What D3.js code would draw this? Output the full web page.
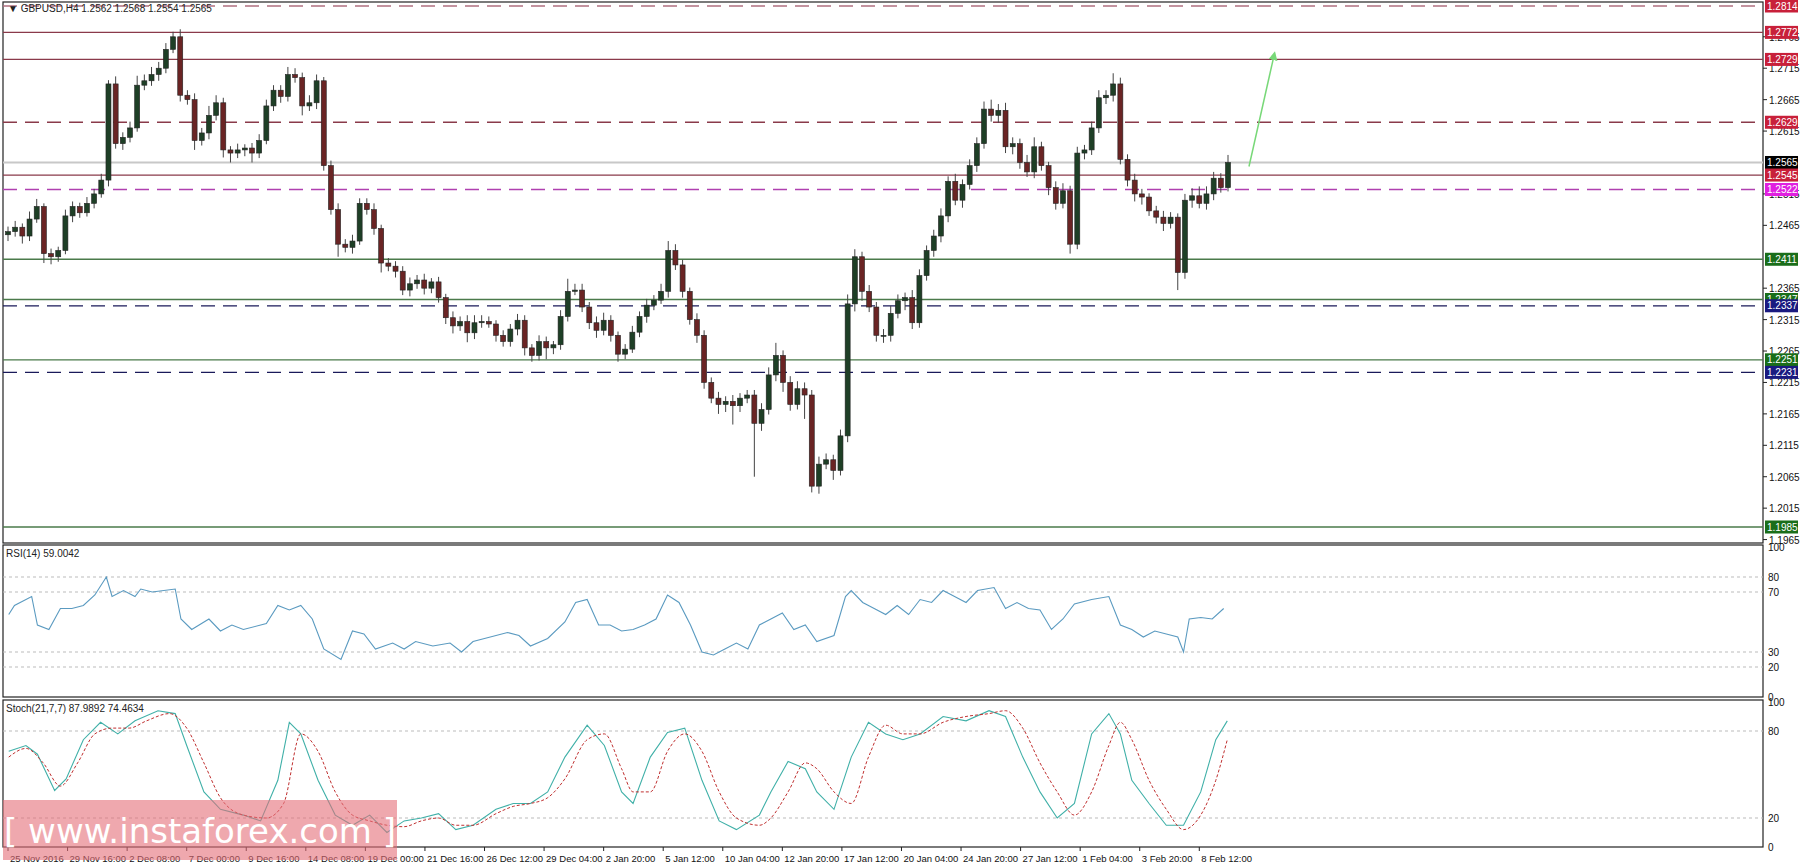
<!DOCTYPE html>
<html><head><meta charset="utf-8">
<script src="https://cdn.jsdelivr.net/npm/d3@7"></script>
<style>body{margin:0;background:#fff}svg{display:block}</style>
</head><body>
<svg id="c" width="1800" height="868"></svg>
<script>
const title = "GBPUSD,H4  1.2562 1.2568 1.2554 1.2565";
const closes = [1.2455,1.2462,1.2448,1.2475,1.2495,1.2420,1.2415,1.2425,1.2480,1.2495,
1.2485,1.2500,1.2515,1.2537,1.2690,1.2595,1.2605,1.2620,1.2688,1.2695,
1.2705,1.2715,1.2745,1.2765,1.2672,1.2665,1.2600,1.2612,1.2640,1.2660,
1.2585,1.2580,1.2585,1.2588,1.2580,1.2600,1.2655,1.2680,1.2670,1.2705,
1.2700,1.2655,1.2660,1.2695,1.2560,1.2490,1.2435,1.2430,1.2440,1.2500,
1.2490,1.2460,1.2405,1.2400,1.2392,1.2362,1.2372,1.2378,1.2365,1.2375,
1.2350,1.2318,1.2305,1.2312,1.2294,1.2310,1.2312,1.2308,1.2290,1.2280,
1.2300,1.2314,1.2270,1.2258,1.2280,1.2270,1.2275,1.2320,1.2360,1.2362,
1.2335,1.2310,1.2298,1.2314,1.2290,1.2260,1.2268,1.2295,1.2320,1.2338,
1.2346,1.2360,1.2425,1.2402,1.2360,1.2315,1.2290,1.2215,1.2190,1.2180,
1.2185,1.2178,1.2190,1.2195,1.2150,1.2172,1.2227,1.2258,1.2215,1.2180,
1.2205,1.2195,1.2050,1.2085,1.2092,1.2075,1.2130,1.2340,1.2415,1.2360,
1.2335,1.2290,1.2290,1.2325,1.2345,1.2350,1.2310,1.2385,1.2425,1.2448,
1.2480,1.2535,1.2505,1.2530,1.2560,1.2595,1.2650,1.2640,1.2648,1.2590,
1.2595,1.2565,1.2550,1.2590,1.2560,1.2525,1.2500,1.2520,1.2435,1.2580,
1.2585,1.2620,1.2668,1.2672,1.2690,1.2570,1.2537,1.2515,1.2510,1.2488,
1.2478,1.2468,1.2478,1.2390,1.2505,1.2512,1.2500,1.2515,1.2540,1.2525,1.2565];
const firstOpen = 1.2450;
// wick lengths in pips
const wickUp = [8,10,6,12,12,5,8,6,10,8, 6,10,8,10,6,12,8,10,15,10, 12,10,10,8,12,8,10,8,15,12,
8,6,10,6,8,10,10,8,8,12, 10,8,12,10,6,8,10,8,10,8, 8,10,6,8,8,8,10,8,10,6,
8,6,10,8,10,12,10,8,6,8, 8,10,8,6,10,8,6,10,20,10, 10,8,10,12,8,6,8,10,8,10,
8,12,15,10,8,6,10,8,8,10, 8,10,8,8,8,10,12,20,8,10, 12,10,8,12,10,8,10,15,12,8,
10,8,10,12,10,8,12,10,8,10, 12,8,12,8,10,10,12,15,10,12, 10,8,12,15,8,6,10,12,8,10,
8,10,12,8,17,10,8,10,8,6, 8,10,8,6,10,12,15,12,10,8, 12];
const wickDn = [10,8,12,8,6,15,12,8,6,10, 8,6,8,6,10,8,10,8,6,8, 8,10,8,6,10,8,15,8,10,8,
12,15,8,10,15,8,6,8,10,8, 8,15,8,10,8,8,20,8,10,6, 8,10,15,8,10,8,10,8,10,8,
8,10,12,8,15,10,8,6,10,8, 8,10,12,10,8,18,10,8,8,6, 8,10,12,8,10,12,8,6,8,10,
8,6,10,8,10,8,12,10,8,15, 12,30,10,8,85,12,8,10,15,10, 8,38,10,12,8,15,8,10,12,15,
8,10,12,10,8,15,10,8,8,10, 10,10,8,12,8,10,8,10,12,10, 12,10,8,10,8,12,10,8,15,8,
10,8,8,10,10,8,10,12,12,8, 10,12,8,28,10,12,8,10,10,8, 6];
const levels = [
 {v:1.2814, c:"#b07080", dash:true,  lab:"#c8203a"},
 {v:1.2772, c:"#8a3a4a", dash:false, lab:"#c8203a"},
 {v:1.2729, c:"#8a3a4a", dash:false, lab:"#c8203a"},
 {v:1.2629, c:"#8a3a4a", dash:true,  lab:"#c8203a"},
 {v:1.2565, c:"#c8c8c8", dash:false, lab:"#000000"},
 {v:1.2545, c:"#8a3a4a", dash:false, lab:"#c8203a"},
 {v:1.2522, c:"#b040b0", dash:true,  lab:"#e020e0"},
 {v:1.2411, c:"#4a7a4a", dash:false, lab:"#1a6e1a"},
 {v:1.2347, c:"#4a7a4a", dash:false, lab:"#1a6e1a"},
 {v:1.2337, c:"#1a1a5a", dash:true,  lab:"#1a1a80"},
 {v:1.2251, c:"#4a7a4a", dash:false, lab:"#1a6e1a"},
 {v:1.2231, c:"#1a1a5a", dash:true,  lab:"#1a1a80"},
 {v:1.1985, c:"#4a7a4a", dash:false, lab:"#1a6e1a"}];
const priceTicks = [1.2765,1.2715,1.2665,1.2615,1.2515,1.2465,1.2365,1.2315,1.2265,1.2215,1.2165,1.2115,1.2065,1.2015,1.1965];
const rsiPos = [0.1,0.9,3.3,4.1,5.7,7.3,8.9,10.5,12.1,13.7,14.5,16.1,17.7,18.5,20.1,23.3,24.1,25.6,28,29.6,
31.2,32.8,36,37.6,39.2,40.8,42.4,44,46.4,48,49.6,51.2,53.6,55.2,56.8,59.2,61.6,63.2,64.8,66.4,
69.6,71.2,72.8,75.2,77.6,79.1,80.7,82.3,83.9,85.5,87.1,88.7,90.3,91.9,93.5,95.1,96.7,98.3,99.9,101.5,
103.1,104.7,106.3,107.9,109.5,111.1,112.7,115.1,116.7,117.5,119.1,120.7,122.3,123.9,125.5,127.1,128.7,130.3,131.9,133.5,
135.1,137.4,139,140.6,142.2,143.8,145.4,147,148.6,151,153.4,155,156.6,158.2,159.8,161.4,163,163.8,164.6,166.2,167.8,169.4];
const rsiVal = [55,61,67,48,45,59,59,61,68,80, 67,71,67,72,70,72,52,45,52,44, 48,45,49,61,58,61,52,32,25,44,
42,32,36,32,37,34,36,30,37,39, 43,41,34,39,50,63,65,48,48,44, 45,48,52,68,63,48,30,28,32,36,
32,48,52,56,45,48,37,41,67,71, 63,59,55,61,55,65,63,71,67,63, 71,73,59,63,59,58,45,52,62,65,
67,48,45,40,44,42,40,30,52,53, 52,59];
const stPos = [0.1,2.5,4.1,6.5,8.1,10.5,12.9,15.3,17.7,20.9,23.3,24.9,27.3,29.6,32.8,35.2,37.6,39.2,40.8,43.2,
45.6,48,50.4,52.8,55.2,57.6,60,62.4,64.8,68,70.4,72.8,75.2,77.6,80.7,83.1,85.5,87.1,89.5,91.9,
94.3,96.7,99.1,101.5,104.7,106.3,108.7,111.1,112.7,115.1,117.5,119.9,122.3,124.7,127.1,130.3,133.5,136.7,139,141.4,
143.8,146.2,148.6,151,153.4,155,156.6,159,161.4,163.8,166.2,168.3,169.9];
const stMain = [66,70,64,39,47,74,86,78,87,94, 92,70,38,26,22,18,46,86,78,46, 22,15,22,10,18,20,23,12,15,26,
30,30,38,62,84,70,38,30,62,79, 82,46,18,12,22,38,59,54,38,26, 62,86,78,74,78,90,87,94,90,62,
38,20,30,78,92,78,46,30,15,15, 38,74,87];
const sgPos = [0.1,2.5,4.9,7.3,9.7,12.1,14.5,16.9,19.3,22.5,24.9,27.3,29.6,32.8,36,38.4,40.8,43.2,45.6,48,
50.4,52.8,55.2,57.6,60,62.4,64.8,68,70.4,72.8,75.2,77.6,80.7,83.1,85.5,87.1,89.5,91.9,94.3,96.7,
99.1,101.5,104.7,106.3,108.7,111.1,112.7,115.1,117.5,119.9,122.3,124.7,127.1,130.3,133.5,136.7,139,141.4,143.8,146.2,
148.6,151,153.4,155,156.6,159,161.4,163.8,166.2,168.3,169.9];
const stSignal = [62,68,58,42,58,78,82,82,87,92, 82,58,34,22,20,30,78,66,38,22, 18,15,14,18,20,15,15,23,28,30,
34,47,74,78,54,38,38,66,78,66, 38,20,15,20,38,58,54,38,30,62, 84,78,78,86,90,92,94,82,58,38,
22,38,70,86,74,46,26,12,22,46, 74];
const timeLabels = ["25 Nov 2016","29 Nov 16:00","2 Dec 08:00","7 Dec 00:00","9 Dec 16:00","14 Dec 08:00","19 Dec 00:00","21 Dec 16:00","26 Dec 12:00","29 Dec 04:00","2 Jan 20:00","5 Jan 12:00","10 Jan 04:00","12 Jan 20:00","17 Jan 12:00","20 Jan 04:00","24 Jan 20:00","27 Jan 12:00","1 Feb 04:00","3 Feb 20:00","8 Feb 12:00"];
const timePos = [0,8.3,16.6,24.9,33.2,41.5,49.8,58.1,66.4,74.7,83,91.3,99.6,107.9,116.2,124.5,132.8,141.1,149.4,157.7,166];

const svg = d3.select("#c");
const F = "'Liberation Sans', Arial, sans-serif";
const L = 3, R = 1763;
const x = d3.scaleLinear().domain([0, closes.length-1]).range([8, 1228]);
const y = d3.scaleLinear().domain([1.1985, 1.2814]).range([527, 6]);
const yr = d3.scaleLinear().domain([0,100]).range([697, 547]);
const ys = d3.scaleLinear().domain([0,100]).range([847, 702]);

[[2,543],[545,697],[700,847]].forEach(([t,b])=>{
  svg.append("rect").attr("x",L).attr("y",t).attr("width",R-L).attr("height",b-t)
    .attr("fill","none").attr("stroke","#222").attr("stroke-width",1.2);
});

levels.forEach(l=>{
  svg.append("line").attr("x1",L).attr("x2",R).attr("y1",y(l.v)).attr("y2",y(l.v))
    .attr("stroke",l.c).attr("stroke-width", l.v===1.2565?2:1.3)
    .attr("stroke-dasharray", l.dash?"14,8":null);
});

const fmt = d3.format(".4f");
priceTicks.forEach(t=>{
  svg.append("line").attr("x1",R).attr("x2",R+4).attr("y1",y(t)).attr("y2",y(t)).attr("stroke","#222");
  svg.append("text").attr("x",R+6).attr("y",y(t)+4).text(fmt(t)).attr("font-size",10).attr("font-family",F).attr("fill","#111");
});
levels.forEach(l=>{
  svg.append("rect").attr("x",R+2).attr("y",y(l.v)-6.5).attr("width",33).attr("height",13).attr("fill",l.lab);
  svg.append("text").attr("x",R+4).attr("y",y(l.v)+3.5).text(fmt(l.v)).attr("font-size",10).attr("font-family",F).attr("fill","#fff");
});

const bars = closes.map((c,i)=>{const o = i===0?firstOpen:closes[i-1];
  return {i,o,c,h:Math.max(o,c)+wickUp[i]/1e4,l:Math.min(o,c)-wickDn[i]/1e4};});
const g = svg.append("g");
g.selectAll(".w").data(bars).join("line").attr("x1",d=>x(d.i)).attr("x2",d=>x(d.i))
  .attr("y1",d=>y(d.h)).attr("y2",d=>y(d.l)).attr("stroke","#444").attr("stroke-width",1);
g.selectAll(".b").data(bars).join("rect").attr("x",d=>x(d.i)-2.5).attr("width",5)
  .attr("y",d=>y(Math.max(d.o,d.c))).attr("height",d=>Math.max(1,Math.abs(y(d.o)-y(d.c))))
  .attr("fill",d=>d.c>=d.o?"#1e3f26":"#6a2424").attr("stroke","#222").attr("stroke-width",0.6);

svg.append("defs").append("marker").attr("id","ah").attr("viewBox","0 0 10 10").attr("refX",5).attr("refY",5)
  .attr("markerWidth",6).attr("markerHeight",6).attr("orient","auto")
  .append("path").attr("d","M0,0L10,5L0,10z").attr("fill","#78d878");
svg.append("line").attr("x1",x(closes.length-1)+21).attr("y1",y(1.2565)+4).attr("x2",x(closes.length-1)+46).attr("y2",y(1.2735))
  .attr("stroke","#78d878").attr("stroke-width",1.5).attr("marker-end","url(#ah)");

svg.append("text").attr("x",8).attr("y",12).attr("font-size",10).attr("font-family",F).attr("fill","#222").text("▼ "+title);

[80,70,30,20].forEach(v=>svg.append("line").attr("x1",L).attr("x2",R).attr("y1",yr(v)).attr("y2",yr(v)).attr("stroke","#bbb").attr("stroke-dasharray","3,3"));
[100,80,70,30,20,0].forEach(v=>svg.append("text").attr("x",R+5).attr("y",yr(v)+4).text(v).attr("font-size",10).attr("font-family",F).attr("fill","#111"));
svg.append("path").datum(rsiPos.map((p,i)=>[p,rsiVal[i]])).attr("d",d3.line().x(d=>x(d[0])).y(d=>yr(d[1])))
  .attr("fill","none").attr("stroke","#5a9ac0").attr("stroke-width",1.1);
svg.append("text").attr("x",6).attr("y",557).attr("font-size",10).attr("font-family",F).attr("fill","#222").text("RSI(14) 59.0042");

[80,20].forEach(v=>svg.append("line").attr("x1",L).attr("x2",R).attr("y1",ys(v)).attr("y2",ys(v)).attr("stroke","#bbb").attr("stroke-dasharray","3,3"));
[100,80,20,0].forEach(v=>svg.append("text").attr("x",R+5).attr("y",ys(v)+4).text(v).attr("font-size",10).attr("font-family",F).attr("fill","#111"));
svg.append("path").datum(stPos.map((p,i)=>[p,stMain[i]])).attr("d",d3.line().x(d=>x(d[0])).y(d=>ys(d[1])))
  .attr("fill","none").attr("stroke","#40b0a8").attr("stroke-width",1.1);
svg.append("path").datum(sgPos.map((p,i)=>[p,stSignal[i]])).attr("d",d3.line().curve(d3.curveMonotoneX).x(d=>x(d[0])).y(d=>ys(d[1])))
  .attr("fill","none").attr("stroke","#c03030").attr("stroke-width",1).attr("stroke-dasharray","3,2");
svg.append("text").attr("x",6).attr("y",712).attr("font-size",10).attr("font-family",F).attr("fill","#222").text("Stoch(21,7,7) 87.9892 74.4634");

timeLabels.forEach((t,i)=>{
  const xx = x(timePos[i]);
  svg.append("line").attr("x1",xx).attr("x2",xx).attr("y1",847).attr("y2",851).attr("stroke","#222");
  svg.append("text").attr("x",xx+2).attr("y",862).text(t).attr("font-size",9.5).attr("font-family",F).attr("fill","#111");
});

svg.append("rect").attr("x",3).attr("y",800).attr("width",394).attr("height",60).attr("fill","rgba(228,110,120,0.6)");
svg.append("text").attr("x",200).attr("y",843).attr("text-anchor","middle").attr("font-size",34).attr("font-family","'DejaVu Sans', sans-serif")
  .attr("fill","#fff").text("[ www.instaforex.com ]");
</script></body></html>
